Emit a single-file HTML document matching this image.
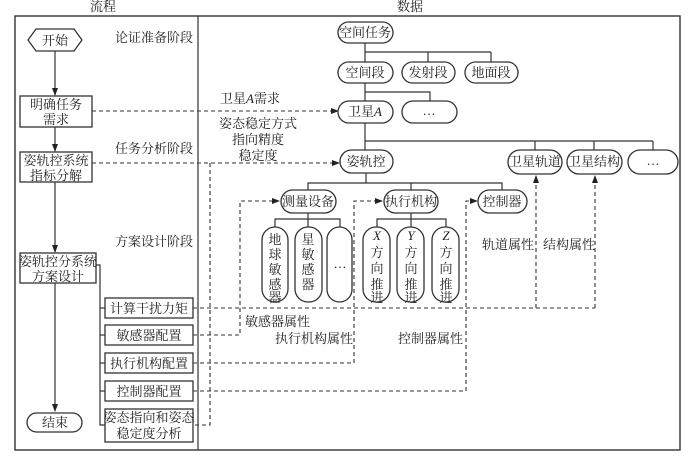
<!DOCTYPE html>
<html><head><meta charset="utf-8"><style>
html,body{margin:0;padding:0;background:#fff;}
svg{display:block;}
text{font-family:"Liberation Serif","Noto Serif CJK SC","Noto Sans CJK SC",serif;font-size:13px;fill:#222;}
.b{fill:#fff;stroke:#333;stroke-width:1.3;}
.l{stroke:#333;stroke-width:1.2;fill:none;}
.d{stroke:#333;stroke-width:1.1;fill:none;stroke-dasharray:4,3;}
</style></head><body>
<svg width="698" height="459" viewBox="0 0 698 459" xmlns="http://www.w3.org/2000/svg">
<defs><marker id="a" markerWidth="8" markerHeight="6" refX="7" refY="3" orient="auto" markerUnits="userSpaceOnUse"><path d="M0,0 L8,3 L0,6 z" fill="#222"/></marker></defs>
<text x="90" y="11">流程</text><text x="397" y="11">数据</text>
<rect x="15" y="16" width="665" height="434" fill="none" stroke="#333" stroke-width="1.4"/>
<line x1="198" y1="16" x2="198" y2="450" class="l"/>

<!-- left flow -->
<polygon points="28,40 36,29 74,29 82,40 74,51 36,51" class="b"/>
<text x="55" y="45" text-anchor="middle">开始</text>
<line x1="55" y1="51" x2="55" y2="95" class="l" marker-end="url(#a)"/>
<rect x="20" y="96" width="72" height="31" class="b"/>
<text x="56" y="109" text-anchor="middle">明确任务</text><text x="56" y="124" text-anchor="middle">需求</text>
<line x1="55" y1="127" x2="55" y2="151" class="l" marker-end="url(#a)"/>
<rect x="20" y="152" width="72" height="30" class="b"/>
<text x="56" y="165" text-anchor="middle">姿轨控系统</text><text x="56" y="180" text-anchor="middle">指标分解</text>
<line x1="55" y1="182" x2="55" y2="252" class="l" marker-end="url(#a)"/>
<rect x="20" y="253" width="76" height="30" class="b"/>
<text x="58" y="266" text-anchor="middle">姿轨控分系统</text><text x="58" y="281" text-anchor="middle">方案设计</text>
<line x1="55" y1="283" x2="55" y2="411" class="l" marker-end="url(#a)"/>
<rect x="27" y="413" width="55" height="19" rx="9.5" class="b"/>
<text x="55" y="427" text-anchor="middle">结束</text>
<polyline points="96,265 100,265 100,425 105,425" class="l"/>
<line x1="100" y1="308" x2="105" y2="308" class="l"/>
<line x1="100" y1="335" x2="105" y2="335" class="l"/>
<line x1="100" y1="363" x2="105" y2="363" class="l"/>
<line x1="100" y1="391" x2="105" y2="391" class="l"/>
<rect x="105" y="298" width="88" height="20" class="b"/><text x="149" y="313" text-anchor="middle">计算干扰力矩</text>
<rect x="105" y="325" width="88" height="20" class="b"/><text x="149" y="340" text-anchor="middle">敏感器配置</text>
<rect x="105" y="353" width="88" height="20" class="b"/><text x="149" y="368" text-anchor="middle">执行机构配置</text>
<rect x="105" y="381" width="88" height="20" class="b"/><text x="149" y="396" text-anchor="middle">控制器配置</text>
<rect x="105" y="409" width="88" height="33" class="b"/><text x="149" y="422" text-anchor="middle">姿态指向和姿态</text><text x="149" y="438" text-anchor="middle">稳定度分析</text>
<text x="115" y="42">论证准备阶段</text>
<text x="115" y="153">任务分析阶段</text>
<text x="115" y="246">方案设计阶段</text>

<!-- dashed links -->
<line x1="92" y1="111" x2="338" y2="111" class="d" marker-end="url(#a)"/>
<line x1="92" y1="163" x2="339" y2="163" class="d" marker-end="url(#a)"/>
<text x="220" y="103">卫星<tspan font-style="italic">A</tspan>需求</text>
<text x="258" y="128" text-anchor="middle">姿态稳定方式</text>
<text x="258" y="144" text-anchor="middle">指向精度</text>
<text x="258" y="160" text-anchor="middle">稳定度</text>
<polyline points="210,163 210,425 193,425" class="d"/>
<polyline points="193,308 595,308" class="d"/>
<line x1="536" y1="308" x2="536" y2="176" class="d" marker-end="url(#a)"/>
<line x1="595" y1="308" x2="595" y2="176" class="d" marker-end="url(#a)"/>
<polyline points="193,335 240,335 240,201 279,201" class="d" marker-end="url(#a)"/>
<polyline points="193,363 354,363 354,201 382,201" class="d" marker-end="url(#a)"/>
<polyline points="193,391 466,391 466,201 477,201" class="d" marker-end="url(#a)"/>
<text x="245" y="326">敏感器属性</text>
<text x="275" y="343">执行机构属性</text>
<text x="398" y="343">控制器属性</text>
<text x="482" y="249">轨道属性</text>
<text x="543" y="249">结构属性</text>

<!-- tree -->
<rect x="338" y="22" width="55" height="21" rx="10.5" class="b"/><text x="365" y="37" text-anchor="middle">空间任务</text>
<polyline points="365,43 365,62" class="l"/><polyline points="365,52 491,52" class="l"/>
<line x1="428" y1="52" x2="428" y2="62" class="l"/><line x1="491" y1="52" x2="491" y2="62" class="l"/>
<rect x="338" y="62" width="55" height="21" rx="10.5" class="b"/><text x="365" y="77" text-anchor="middle">空间段</text>
<rect x="402" y="62" width="53" height="21" rx="10.5" class="b"/><text x="428" y="77" text-anchor="middle">发射段</text>
<rect x="465" y="62" width="53" height="21" rx="10.5" class="b"/><text x="491" y="77" text-anchor="middle">地面段</text>
<line x1="365" y1="83" x2="365" y2="101" class="l"/><polyline points="365,92 430,92 430,101" class="l"/>
<rect x="338" y="101" width="55" height="22" rx="11" class="b"/><text x="365" y="116" text-anchor="middle">卫星<tspan font-style="italic">A</tspan></text>
<rect x="402" y="101" width="55" height="22" rx="11" class="b"/><text x="429" y="115" text-anchor="middle">…</text>
<line x1="365" y1="123" x2="365" y2="150" class="l"/><polyline points="365,141 653,141" class="l"/>
<line x1="535" y1="141" x2="535" y2="150" class="l"/><line x1="594" y1="141" x2="594" y2="150" class="l"/><line x1="653" y1="141" x2="653" y2="150" class="l"/>
<rect x="340" y="150" width="53" height="23" rx="11.5" class="b"/><text x="366" y="166" text-anchor="middle">姿轨控</text>
<rect x="508" y="150" width="54" height="24" rx="12" class="b"/><text x="535" y="166" text-anchor="middle">卫星轨道</text>
<rect x="567" y="150" width="55" height="24" rx="12" class="b"/><text x="594" y="166" text-anchor="middle">卫星结构</text>
<rect x="628" y="150" width="50" height="24" rx="12" class="b"/><text x="653" y="165" text-anchor="middle">…</text>
<line x1="366" y1="173" x2="366" y2="183" class="l"/><polyline points="308,190 308,183 502,183 502,190" class="l"/>
<line x1="411" y1="183" x2="411" y2="190" class="l"/>
<rect x="281" y="190" width="55" height="23" rx="11.5" class="b"/><text x="308" y="206" text-anchor="middle">测量设备</text>
<rect x="384" y="190" width="54" height="23" rx="11.5" class="b"/><text x="411" y="206" text-anchor="middle">执行机构</text>
<rect x="478" y="190" width="49" height="23" rx="11.5" class="b"/><text x="502" y="206" text-anchor="middle">控制器</text>
<line x1="308" y1="213" x2="308" y2="227" class="l"/><polyline points="275,227 275,219 340,219 340,227" class="l"/>
<line x1="411" y1="213" x2="411" y2="227" class="l"/><polyline points="377,227 377,219 446,219 446,227" class="l"/>
<rect x="262" y="227" width="26" height="75" rx="13" class="b"/>
<text x="275" y="244" text-anchor="middle">地</text><text x="275" y="259" text-anchor="middle">球</text><text x="275" y="274" text-anchor="middle">敏</text><text x="275" y="289" text-anchor="middle">感</text><text x="275" y="302" text-anchor="middle">器</text>
<rect x="295" y="227" width="27" height="75" rx="13" class="b"/>
<text x="308" y="244" text-anchor="middle">星</text><text x="308" y="259" text-anchor="middle">敏</text><text x="308" y="274" text-anchor="middle">感</text><text x="308" y="289" text-anchor="middle">器</text>
<rect x="327" y="227" width="25" height="75" rx="12.5" class="b"/><text x="340" y="268" text-anchor="middle">…</text>
<rect x="363" y="227" width="27" height="75" rx="13" class="b"/>
<text x="377" y="240" text-anchor="middle" font-style="italic">X</text><text x="377" y="257" text-anchor="middle">方</text><text x="377" y="273" text-anchor="middle">向</text><text x="377" y="289" text-anchor="middle">推</text><text x="377" y="302" text-anchor="middle">进</text>
<rect x="397" y="227" width="27" height="75" rx="13" class="b"/>
<text x="411" y="240" text-anchor="middle" font-style="italic">Y</text><text x="411" y="257" text-anchor="middle">方</text><text x="411" y="273" text-anchor="middle">向</text><text x="411" y="289" text-anchor="middle">推</text><text x="411" y="302" text-anchor="middle">进</text>
<rect x="432" y="227" width="27" height="75" rx="13" class="b"/>
<text x="446" y="240" text-anchor="middle" font-style="italic">Z</text><text x="446" y="257" text-anchor="middle">方</text><text x="446" y="273" text-anchor="middle">向</text><text x="446" y="289" text-anchor="middle">推</text><text x="446" y="302" text-anchor="middle">进</text>
</svg>
</body></html>
